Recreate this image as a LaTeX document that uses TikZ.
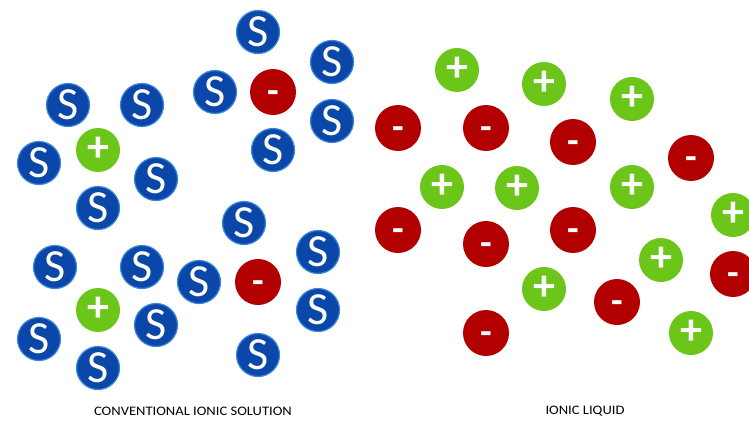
\documentclass[tikz,border=0pt]{standalone}
\usepackage{fontspec}
\setmainfont{Carlito}
\newfontfamily\capfont[FakeStretch=1.12]{Carlito}
\usetikzlibrary{positioning}
\definecolor{solvblue}{HTML}{0A47A8}
\definecolor{solvedge}{HTML}{3A86DC}
\definecolor{anionred}{HTML}{B20000}
\definecolor{cationgreen}{HTML}{6CC61A}

\begin{document}
\begin{tikzpicture}[
    x=1pt, y=-1pt,
    snode/.style={circle, draw=solvedge, line width=1.2pt, fill=solvblue,
                  minimum size=43pt, inner sep=0pt, text=white,
                  font=\fontsize{46}{46}\selectfont},
    cnode/.style={circle, fill=cationgreen, minimum size=44pt, inner sep=0pt,
                  text=white, text height=22pt, text depth=-3pt,
                  font=\fontsize{44}{44}\selectfont\bfseries},
    anode/.style={circle, fill=anionred, minimum size=46pt, inner sep=0pt,
                  text=white, text height=22pt, text depth=0pt,
                  font=\fontsize{38}{38}\selectfont\bfseries},
    caption/.style={font=\capfont\fontsize{13}{13}\selectfont}
  ]
  \useasboundingbox (0,0) rectangle (749,423);

  % conventional ionic solution: solvent shells
  \foreach \x/\y [count=\i] in {258/32, 332/62, 215/92, 332/121, 273/150,
      68/105, 142/105, 39/163, 156/179, 98/208,
      244/223, 318/252, 199/282, 318/310, 258/355,
      55/267, 142/267, 156/325, 39/339, 98/368}
    \node[snode] (s\i) at (\x,\y) {S};
  \node[anode] (sol-a1) at (273,92) {-};
  \node[anode] (sol-a2) at (258,282) {-};
  \node[cnode] (sol-c1) at (98,150) {+};
  \node[cnode] (sol-c2) at (98,310) {+};

  % ionic liquid
  \foreach \x/\y [count=\i] in {457/70, 544/84, 632/99, 442/187, 517/188,
      632/187, 733/215, 661/260, 544/289, 691/333}
    \node[cnode] (il-c\i) at (\x,\y) {+};
  \foreach \x/\y [count=\i] in {398/128, 486/128, 573/142, 691/158,
      398/230, 573/230, 486/244, 733/274, 617/302, 486/333}
    \node[anode] (il-a\i) at (\x,\y) {-};

  \node[caption] (sol-label) at (193,411) {CONVENTIONAL IONIC SOLUTION};
  \node[caption] (il-label) at (585,411) {IONIC LIQUID};
\end{tikzpicture}
\end{document}
